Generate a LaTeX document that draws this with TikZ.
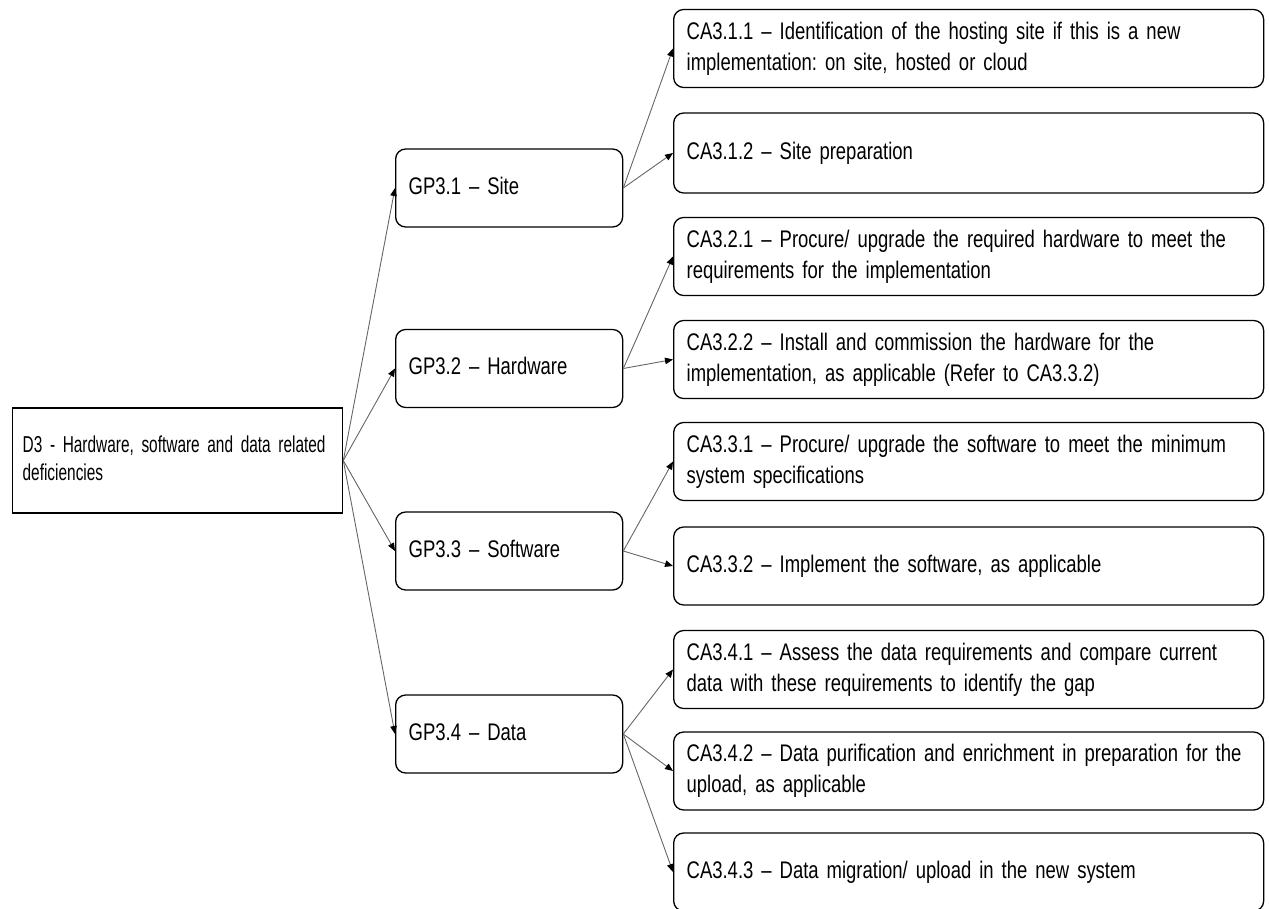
\documentclass[tikz,border=0pt]{standalone}
\usepackage{fontspec}
\usetikzlibrary{arrows.meta}
\newfontfamily\boxfont{Liberation Sans}[FakeStretch=0.77,WordSpace=0.75]
\newfontfamily\rootfont{Liberation Sans}[FakeStretch=0.67,WordSpace=0.75]
\frenchspacing
% left-aligned lines that never break or stretch
\newcommand\boxlines[1]{\begin{tabular}{@{}l@{}}#1\end{tabular}}
\begin{document}
\begin{tikzpicture}[x=1pt,y=-1pt,
  rootbox/.style={draw=black,line width=1.3pt,rectangle,anchor=west,
    minimum width=330pt,minimum height=105pt,inner xsep=10pt,inner ysep=0pt,
    text width=310pt,align=left,font=\rootfont\fontsize{23}{28}\selectfont},
  goalbox/.style={draw=black,line width=1.3pt,rounded corners=10pt,anchor=west,
    minimum width=227pt,minimum height=78pt,inner xsep=13pt,inner ysep=0pt,
    text width=201pt,align=left,font=\boxfont\fontsize{24}{31}\selectfont},
  actbox/.style={goalbox,minimum width=590pt,text width=564pt},
  link/.style={draw=black!60,line width=0.9pt,
    -{Triangle[length=8pt,width=6.5pt,color=black]}}
]
\useasboundingbox (0,0) rectangle (1269,909);

% deficiency
\node[rootbox] (d3) at (12,460.5) {\boxlines{D3 - Hardware, software and data related\\deficiencies}};

% good practices
\node[goalbox] (gp1) at (395,188)   {\boxlines{GP3.1 – Site}};
\node[goalbox] (gp2) at (395,368.5) {\boxlines{GP3.2 – Hardware}};
\node[goalbox] (gp3) at (395,551)   {\boxlines{GP3.3 – Software}};
\node[goalbox] (gp4) at (395,734)   {\boxlines{GP3.4 – Data}};

% corrective actions
\node[actbox] (ca11) at (673,48.5)  {\boxlines{CA3.1.1 – Identification of the hosting site if this is a new\\implementation: on site, hosted or cloud}};
\node[actbox,minimum height=80pt] (ca12) at (673,153) {\boxlines{CA3.1.2 – Site preparation}};
\node[actbox] (ca21) at (673,256.5) {\boxlines{CA3.2.1 – Procure/ upgrade the required hardware to meet the\\requirements for the implementation}};
\node[actbox] (ca22) at (673,359.5) {\boxlines{CA3.2.2 – Install and commission the hardware for the\\implementation, as applicable (Refer to CA3.3.2)}};
\node[actbox] (ca31) at (673,461.5) {\boxlines{CA3.3.1 – Procure/ upgrade the software to meet the minimum\\system specifications}};
\node[actbox] (ca32) at (673,566)   {\boxlines{CA3.3.2 – Implement the software, as applicable}};
\node[actbox] (ca41) at (673,669.5) {\boxlines{CA3.4.1 – Assess the data requirements and compare current\\data with these requirements to identify the gap}};
\node[actbox] (ca42) at (673,771)   {\boxlines{CA3.4.2 – Data purification and enrichment in preparation for the\\upload, as applicable}};
\node[actbox] (ca43) at (673,872)   {\boxlines{CA3.4.3 – Data migration/ upload in the new system}};

% connectors
\foreach \g in {gp1,gp2,gp3,gp4}
  \draw[link] (d3.east) -- (\g.west);
\draw[link] (gp1.east) -- (ca11.west);
\draw[link] (gp1.east) -- (ca12.west);
\draw[link] (gp2.east) -- (ca21.west);
\draw[link] (gp2.east) -- (ca22.west);
\draw[link] (gp3.east) -- (ca31.west);
\draw[link] (gp3.east) -- (ca32.west);
\draw[link] (gp4.east) -- (ca41.west);
\draw[link] (gp4.east) -- (ca42.west);
\draw[link] (gp4.east) -- (ca43.west);
\end{tikzpicture}
\end{document}
